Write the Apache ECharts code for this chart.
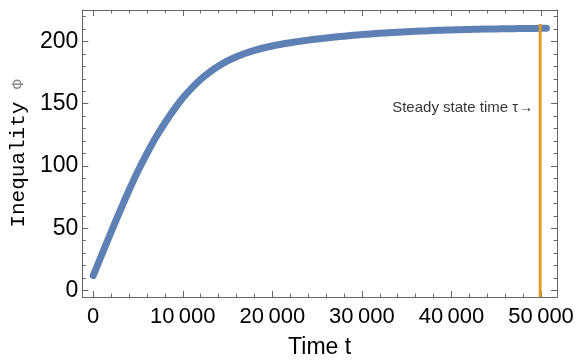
<!DOCTYPE html>
<html>
<head>
<meta charset="utf-8">
<script src="https://cdn.jsdelivr.net/npm/echarts@6/dist/echarts.min.js"></script>
<style>
    html, body { margin: 0; padding: 0; background: #fff; }
    #chart { width: 581px; height: 364px; }
</style>
</head>
<body>
<div id="chart"></div>
<script>
// time samples t and inequality values
const timeValues = [
    0, 1000, 2000, 3000, 4000, 5000, 6000, 7000, 8000, 9000,
    10000, 11000, 12000, 13000, 14000, 15000, 16000, 17000, 18000, 19000,
    20000, 21000, 22000, 23000, 24000, 25000, 26000, 27000, 28000, 29000,
    30000, 31000, 32000, 33000, 34000, 35000, 36000, 37000, 38000, 39000,
    40000, 41000, 42000, 43000, 44000, 45000, 46000, 47000, 48000, 49000,
    50000, 50600,
];
const phiValues = [
    12, 29.5, 47, 64, 80.5, 96, 110, 123, 134.5, 145,
    154.5, 162.5, 169.5, 175.3, 180.2, 184.3, 187.7, 190.5, 192.8, 194.7,
    196.3, 197.7, 198.9, 200, 201, 201.9, 202.7, 203.5, 204.2, 204.9,
    205.5, 206, 206.5, 207, 207.4, 207.8, 208.1, 208.4, 208.7, 209,
    209.2, 209.4, 209.6, 209.8, 209.9, 210, 210.1, 210.2, 210.3, 210.4,
    210.5, 210.5,
];

// steady state marker
const steadyTime = 49900;
const steadyTop = 214;
const steadyLabel = 'Steady state time \u03c4\u2192';
const steadyLabelPhi = 146.5;

// tick labels
const xMajorTicks = [0, 10000, 20000, 30000, 40000, 50000];
const xMinorTicks = [2000, 4000, 6000, 8000, 12000, 14000, 16000, 18000, 22000, 24000, 26000, 28000,
    32000, 34000, 36000, 38000, 42000, 44000, 46000, 48000];
const yMajorTicks = [0, 50, 100, 150, 200];
const yMinorTicks = [10, 20, 30, 40, 60, 70, 80, 90, 110, 120, 130, 140, 160, 170, 180, 190, 210, 220];

const X_MIN = -1220;
const X_MAX = 51780;
const Y_MIN = -5.2;
const Y_MAX = 225.2;

const FRAME = '#666';
const SANS = '"Liberation Sans", Arial, sans-serif';

function fmtThousands(v) {
    return String(v).replace(/\B(?=(\d{3})+(?!\d))/g, '\u2009');
}

// 框线坐标轴：主刻度 / 次刻度分开画
function frameAxis(position, ticks, len, showLine, min, max, extra) {
    return Object.assign({
        type: 'value',
        position: position,
        min: min,
        max: max,
        axisLine: { show: showLine, onZero: false, lineStyle: { color: FRAME, width: 1 } },
        axisTick: { show: true, inside: true, length: len, customValues: ticks, lineStyle: { color: FRAME, width: 1 } },
        axisLabel: { show: false },
        splitLine: { show: false },
    }, extra || {});
}

const chart = echarts.init(document.getElementById('chart'));

const option = {
    animation: false,
    grid: { left: 80, right: 24, top: 10, bottom: 59 },
    xAxis: [
        frameAxis('bottom', xMajorTicks, 6, true, X_MIN, X_MAX, {
            axisLabel: {
                show: true,
                customValues: xMajorTicks,
                formatter: fmtThousands,
                color: '#000',
                fontFamily: SANS,
                fontSize: 22,
                margin: 9,
            },
            name: 'Time t',
            nameLocation: 'middle',
            nameGap: 39,
            nameTextStyle: { color: '#000', fontFamily: SANS, fontSize: 23 },
        }),
        frameAxis('bottom', xMinorTicks, 3.5, false, X_MIN, X_MAX),
        frameAxis('top', xMajorTicks, 6, true, X_MIN, X_MAX),
        frameAxis('top', xMinorTicks, 3.5, false, X_MIN, X_MAX),
    ],
    yAxis: [
        frameAxis('left', yMajorTicks, 6, true, Y_MIN, Y_MAX, {
            axisLabel: {
                show: true,
                customValues: yMajorTicks,
                color: '#000',
                fontFamily: SANS,
                fontSize: 23,
                margin: 4,
            },
            name: '{a|Inequality} {b|\u03a6}',
            nameLocation: 'middle',
            nameGap: 45,
            nameTextStyle: {
                color: '#000',
                fontSize: 21,
                fontFamily: '"Liberation Mono", monospace',
                rich: {
                    a: { fontFamily: '"Liberation Mono", monospace', fontSize: 21, color: '#000' },
                    b: { fontFamily: '"Liberation Mono", monospace', fontSize: 16, color: '#888' },
                },
            },
        }),
        frameAxis('left', yMinorTicks, 3.5, false, Y_MIN, Y_MAX),
        frameAxis('right', yMajorTicks, 6, true, Y_MIN, Y_MAX),
        frameAxis('right', yMinorTicks, 3.5, false, Y_MIN, Y_MAX),
    ],
    series: [
        {
            name: 'phi',
            type: 'line',
            xAxisIndex: 0,
            yAxisIndex: 0,
            data: timeValues.map((t, i) => [t, phiValues[i]]),
            showSymbol: false,
            smooth: 0.3,
            lineStyle: { color: '#5E81B5', width: 7, cap: 'round', join: 'round' },
            emphasis: { disabled: true },
            z: 2,
        },
        {
            name: 'steady',
            type: 'line',
            xAxisIndex: 0,
            yAxisIndex: 0,
            data: [[steadyTime, Y_MIN], [steadyTime, steadyTop]],
            showSymbol: false,
            lineStyle: { color: '#E19C24', width: 3 },
            emphasis: { disabled: true },
            z: 3,
        },
        {
            name: 'steadyLabel',
            type: 'scatter',
            xAxisIndex: 0,
            yAxisIndex: 0,
            data: [[steadyTime, steadyLabelPhi]],
            symbolSize: 0,
            label: {
                show: true,
                position: 'left',
                distance: 7,
                formatter: steadyLabel,
                color: '#000',
                fontFamily: SANS,
                fontSize: 15,
            },
            emphasis: { disabled: true },
            z: 4,
        },
    ],
};

chart.setOption(option);
</script>
</body>
</html>
